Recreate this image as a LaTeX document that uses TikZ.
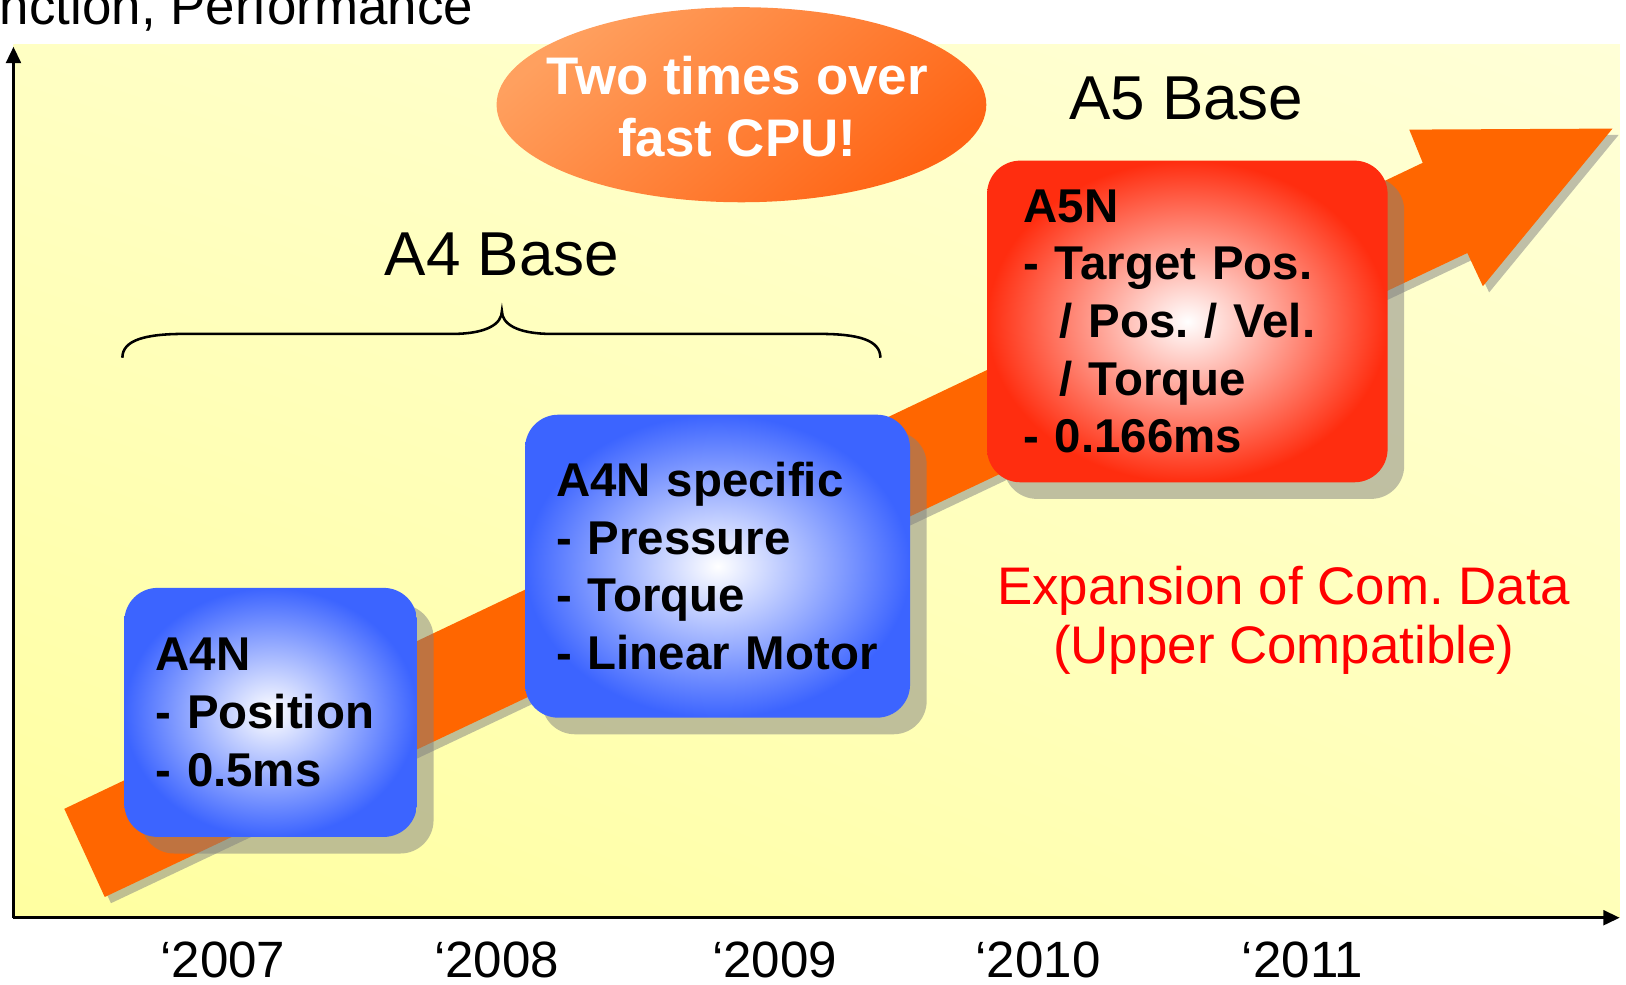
\documentclass[tikz,border=0pt]{standalone}
\usepackage{fontspec}
\setmainfont{Liberation Sans}
\usetikzlibrary{arrows.meta,shapes.geometric,shadows,shadings,positioning}
\definecolor{yelA}{RGB}{255,255,160}
\definecolor{yelB}{RGB}{255,255,195}
\definecolor{yelC}{RGB}{255,255,185}
\definecolor{yelD}{RGB}{255,255,215}
\definecolor{bandor}{RGB}{255,102,0}
\definecolor{boxblue}{RGB}{60,100,255}
\definecolor{boxred}{RGB}{255,45,15}
\definecolor{ellhi}{RGB}{255,160,95}
\definecolor{ello}{RGB}{255,100,20}
\definecolor{comred}{RGB}{255,0,0}
\frenchspacing
\hyphenpenalty=10000

\tikzset{
  axisline/.style={line width=0.9pt,-{Triangle[length=4.5pt,width=4pt]}},
  specbox/.style={rounded corners=0.32cm,align=left,
    drop shadow={shadow xshift=0.16cm,shadow yshift=-0.16cm,fill=gray,opacity=0.5},
    font=\fontsize{13}{15.8}\selectfont\bfseries},
  baselabel/.style={anchor=base,font=\fontsize{17}{20}\selectfont},
  yearlabel/.style={anchor=base,font=\fontsize{14}{16}\selectfont},
}

\begin{document}
\begin{tikzpicture}[x=0.01cm,y=-0.01cm]
  \clip (0,0) rectangle (1568,949);
  % ---------------- background and axes ----------------------------
  \shade[lower left=yelA,upper left=yelB,lower right=yelC,upper right=yelD]
    (13,43) rectangle (1562,885);
  \coordinate (origin) at (13,885);
  \coordinate (ytop) at (13,45);
  \coordinate (xend) at (1562,885);
  \node[anchor=base west,font=\fontsize{14.5}{17}\selectfont] (perf) at (-72,24)
    {Function, Performance};
  % ---------------- growth arrow ------------------------------------
  \fill[bandor,drop shadow={shadow xshift=0.06cm,shadow yshift=-0.06cm,fill=gray,opacity=0.5}]
    (62,780) -- (1372,157) -- (1359,125) -- (1555,124) -- (1430,276)
    -- (1415,244) -- (101,865) -- cycle;
  \draw[axisline] (origin) -- (ytop);
  \draw[axisline] (origin) -- (xend);
  % ---------------- generations -------------------------------------
  \node[specbox,inner color=white,outer color=boxblue,inner xsep=0.3cm,
    text width=2.22cm,minimum width=2.82cm,minimum height=2.4cm] (a4n) at (261,687)
    {A4N\\- Position\\- 0.5ms};
  \node[specbox,inner color=white,outer color=boxblue,inner xsep=0.3cm,
    text width=3.11cm,minimum width=3.71cm,minimum height=2.92cm] (a4nspec) at (692,546)
    {A4N specific\\- Pressure\\- Torque\\- Linear Motor};
  \node[specbox,inner color=white,outer color=boxred,inner xsep=0.35cm,
    text width=3.16cm,minimum width=3.86cm,minimum height=3.1cm] (a5n) at (1145,310)
    {A5N\\- Target Pos.\\\hspace*{0.35cm}/ Pos. / Vel.\\\hspace*{0.35cm}/ Torque\\- 0.166ms};
  % ---------------- CPU bubble --------------------------------------
  \shade[top color=ellhi,bottom color=ello,shading angle=40]
    (715,101) ellipse [x radius=2.36cm,y radius=0.94cm];
  \node[white,align=center,font=\fontsize{14.5}{17.1}\selectfont\bfseries] (cpu) at (711,103)
    {Two times over\\fast CPU!};
  % ---------------- base labels and brace ---------------------------
  \node[baselabel] (a4base) at (484,266) {A4 Base};
  \node[baselabel] (a5base) at (1144,115) {A5 Base};
  \draw[line width=0.7pt]
    (118,345) .. controls (118,328) and (140,322) .. (178,322) -- (436,322)
    .. controls (470,322) and (484,312) .. (484,300)
    .. controls (484,312) and (498,322) .. (532,322) -- (790,322)
    .. controls (828,322) and (849,328) .. (849,345);
  \node[comred,align=center,font=\fontsize{14.5}{16.2}\selectfont] (expand) at (1238,598)
    {Expansion of Com. Data\\(Upper Compatible)};
  % ---------------- years -------------------------------------------
  \foreach \yr/\xx in {2007/215,2008/479,2009/747,2010/1001,2011/1256}
    \node[yearlabel] (y\yr) at (\xx,943) {\textquoteleft\yr};
\end{tikzpicture}
\end{document}
